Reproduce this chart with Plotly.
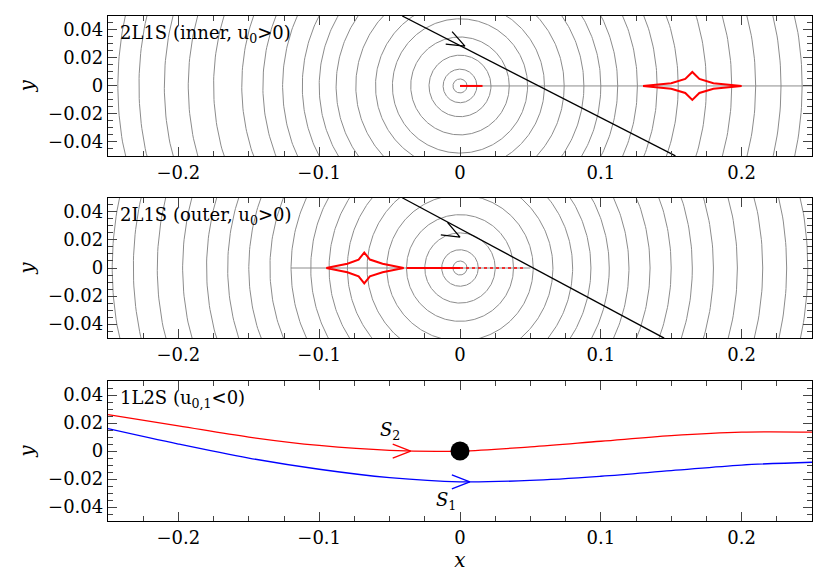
import numpy as np
import plotly.graph_objects as go

# ---- data ----
top_radii = [0.005, 0.012, 0.022, 0.035, 0.048, 0.06, 0.074, 0.088, 0.1, 0.112, 0.126,
             0.14, 0.155, 0.175, 0.193, 0.21, 0.228, 0.243]
mid_radii = [0.005, 0.013, 0.025, 0.038, 0.052, 0.066, 0.08, 0.093, 0.106, 0.12, 0.135,
             0.15, 0.165, 0.18, 0.197, 0.215, 0.232, 0.247]
top_caustic_x = [0.130, 0.150, 0.160, 0.165, 0.170, 0.180, 0.200, 0.180, 0.170, 0.165, 0.160, 0.150, 0.130]
top_caustic_y = [0.000, 0.002, 0.005, 0.010, 0.005, 0.002, 0.000, -0.002, -0.005, -0.010, -0.005, -0.002, 0.000]
mid_caustic_x = [-0.095, -0.080, -0.072, -0.068, -0.064, -0.055, -0.040, -0.055, -0.064, -0.068, -0.072, -0.080, -0.095]
mid_caustic_y = [0.000, 0.003, 0.006, 0.011, 0.006, 0.003, 0.000, -0.003, -0.006, -0.011, -0.006, -0.003, 0.000]
top_traj_x = [-0.041, 0.153]
top_traj_y = [0.050, -0.050]
mid_traj_x = [-0.041, 0.145]
mid_traj_y = [0.050, -0.050]
s2_x = [-0.25, -0.2, -0.15, -0.1, -0.05, 0.0, 0.05, 0.1, 0.15, 0.2, 0.25]
s2_y = [0.026, 0.018, 0.010, 0.004, 0.0005, 0.0, 0.003, 0.007, 0.011, 0.0135, 0.0135]
s1_x = [-0.25, -0.2, -0.15, -0.1, -0.05, 0.0, 0.05, 0.1, 0.15, 0.2, 0.25]
s1_y = [0.016, 0.005, -0.005, -0.013, -0.019, -0.022, -0.021, -0.018, -0.014, -0.010, -0.008]
xticks = [-0.2, -0.1, 0, 0.1, 0.2]
xticklabels = ["−0.2", "−0.1", "0", "0.1", "0.2"]
yticks = [-0.04, -0.02, 0, 0.02, 0.04]
yticklabels = ["−0.04", "−0.02", "0", "0.02", "0.04"]

FONT = "DejaVu Serif"
FS = 18
GRAY = "#8c8c8c"
fig = go.Figure()

def circles(radii, xa, ya):
    t = np.linspace(0, 2*np.pi, 400)
    xs, ys = [], []
    for r in radii:
        xs += list(r*np.cos(t)) + [None]
        ys += list(r*np.sin(t)) + [None]
    fig.add_trace(go.Scatter(x=xs, y=ys, mode="lines", line=dict(color=GRAY, width=1),
                             xaxis=xa, yaxis=ya, showlegend=False, hoverinfo="skip"))

def line(x, y, xa, ya, color, width=1.3, dash=None):
    fig.add_trace(go.Scatter(x=x, y=y, mode="lines", line=dict(color=color, width=width, dash=dash),
                             xaxis=xa, yaxis=ya, showlegend=False, hoverinfo="skip"))

SX, SY = 0.5/704, 0.1/140   # data units per pixel

def chevron(tx, ty, ddx, ddy, xa, ya, color):
    dx, dy = ddx/SX, ddy/SY
    L = np.hypot(dx, dy); ux, uy = dx/L, dy/L
    px, py = -uy, ux
    a, w = 18, 7
    xs = [tx + (-a*ux + w*px)*SX, tx, tx + (-a*ux - w*px)*SX]
    ys = [ty + (-a*uy + w*py)*SY, ty, ty + (-a*uy - w*py)*SY]
    line(xs, ys, xa, ya, color)

# top panel
circles(top_radii, "x", "y")
line([0.0, 0.25], [0, 0], "x", "y", GRAY, 1)
line(top_caustic_x, top_caustic_y, "x", "y", "red", 2)
line([0.0, 0.016], [0, 0], "x", "y", "red", 2)
line(top_traj_x, top_traj_y, "x", "y", "black", 1.3)
chevron(0.0035, 0.0285, top_traj_x[1]-top_traj_x[0], top_traj_y[1]-top_traj_y[0], "x", "y", "black")

# middle panel
circles(mid_radii, "x2", "y2")
line([-0.12, 0.05], [0, 0], "x2", "y2", GRAY, 1)
line(mid_caustic_x, mid_caustic_y, "x2", "y2", "red", 2)
line([-0.038, 0.0], [0, 0], "x2", "y2", "red", 2)
line([0.0, 0.045], [0, 0], "x2", "y2", "red", 1.5, "dot")
line(mid_traj_x, mid_traj_y, "x2", "y2", "black", 1.3)
chevron(0.0, 0.022, mid_traj_x[1]-mid_traj_x[0], mid_traj_y[1]-mid_traj_y[0], "x2", "y2", "black")

# bottom panel
fig.add_trace(go.Scatter(x=s2_x, y=s2_y, mode="lines", line=dict(color="red", width=1.3, shape="spline"),
                         xaxis="x3", yaxis="y3", showlegend=False))
fig.add_trace(go.Scatter(x=s1_x, y=s1_y, mode="lines", line=dict(color="blue", width=1.3, shape="spline"),
                         xaxis="x3", yaxis="y3", showlegend=False))
chevron(-0.035, 0.0, 1, 0, "x3", "y3", "red")
chevron(0.007, -0.022, 1, 0, "x3", "y3", "blue")
fig.add_trace(go.Scatter(x=[0], y=[0], mode="markers", marker=dict(color="black", size=19),
                         xaxis="x3", yaxis="y3", showlegend=False))

ann = [
    dict(x=-0.243, y=0.047, xref="x", yref="y", text="2L1S (inner, u<sub>0</sub>>0)"),
    dict(x=-0.243, y=0.047, xref="x2", yref="y2", text="2L1S (outer, u<sub>0</sub>>0)"),
    dict(x=-0.243, y=0.047, xref="x3", yref="y3", text="1L2S (u<sub>0,1</sub><0)"),
]
annotations = [dict(a, xanchor="left", yanchor="top", showarrow=False,
                    font=dict(family=FONT, size=FS, color="black")) for a in ann]
annotations += [
    dict(x=-0.05, y=0.004, xref="x3", yref="y3", text="<i>S</i><sub>2</sub>", showarrow=False,
         font=dict(family=FONT, size=FS, color="black"), yanchor="bottom"),
    dict(x=-0.01, y=-0.026, xref="x3", yref="y3", text="<i>S</i><sub>1</sub>", showarrow=False,
         font=dict(family=FONT, size=FS, color="black"), yanchor="top"),
]

def xax(anchor):
    return dict(range=[-0.25, 0.25], tickvals=xticks, ticktext=xticklabels, ticks="inside",
                ticklen=9, mirror="allticks", showline=True, linecolor="black", linewidth=1.3,
                showgrid=False, zeroline=False, anchor=anchor,
                minor=dict(ticks="inside", ticklen=5, dtick=0.025, tick0=0),
                tickfont=dict(family=FONT, size=FS, color="black"))

def yax(dom, anchor):
    return dict(range=[-0.05, 0.05], domain=dom, tickvals=yticks, ticktext=yticklabels, ticks="inside",
                ticklen=9, mirror="allticks", showline=True, linecolor="black", linewidth=1.3,
                showgrid=False, zeroline=False, anchor=anchor,
                minor=dict(ticks="inside", ticklen=5, dtick=0.005, tick0=0),
                tickfont=dict(family=FONT, size=FS, color="black"),
                title=dict(text="<i>y</i>", font=dict(family=FONT, size=20, color="black"), standoff=8))

x3 = xax("y3"); x3["title"] = dict(text="<i>x</i>", font=dict(family=FONT, size=20, color="black"), standoff=0)
fig.update_layout(
    width=830, height=574, margin=dict(l=100, r=26, t=8, b=61),
    plot_bgcolor="white", paper_bgcolor="white",
    xaxis=xax("y"), xaxis2=xax("y2"), xaxis3=x3,
    yaxis=yax([0.723, 1.0], "x"), yaxis2=yax([0.362, 0.640], "x2"), yaxis3=yax([0.0, 0.277], "x3"),
    annotations=annotations,
)
fig.write_html("out.html")
